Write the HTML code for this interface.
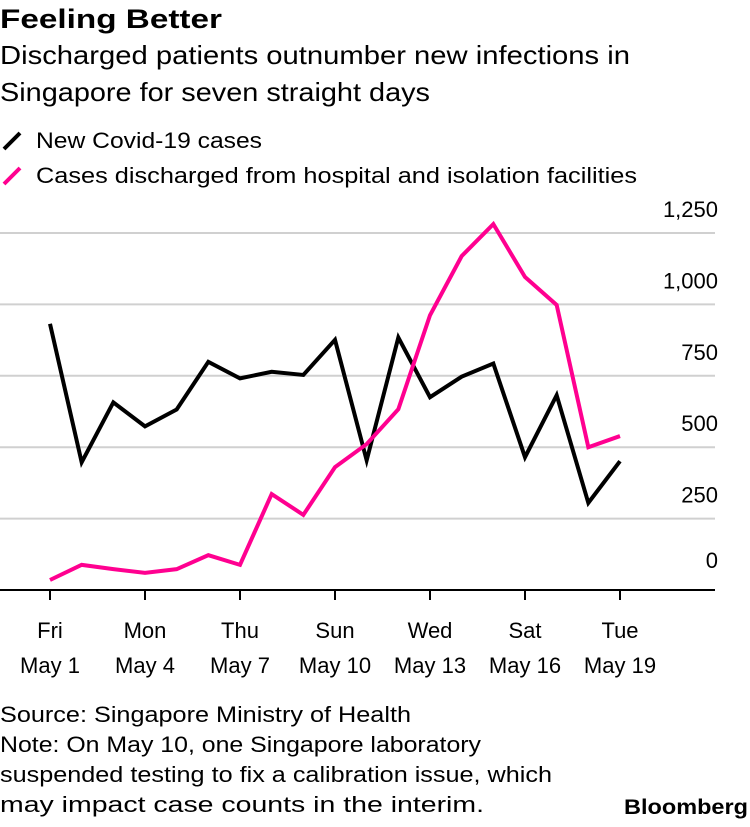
<!DOCTYPE html>
<html><head><meta charset="utf-8"><style>
body{margin:0;background:#fff;width:750px;height:822px;overflow:hidden;font-family:"Liberation Sans",sans-serif;color:#000}
svg text{font-family:"Liberation Sans",sans-serif}
</style></head><body>
<svg width="750" height="822">
<text x="0" y="28" font-size="27" font-weight="bold" textLength="222" lengthAdjust="spacingAndGlyphs">Feeling Better</text>
<text x="0" y="64" font-size="26" textLength="630" lengthAdjust="spacingAndGlyphs">Discharged patients outnumber new infections in</text>
<text x="0" y="101" font-size="26" textLength="430" lengthAdjust="spacingAndGlyphs">Singapore for seven straight days</text>
<g><line x1="4" y1="149" x2="20" y2="133" stroke="#000" stroke-width="4"/><text x="36" y="148" font-size="22" textLength="226" lengthAdjust="spacingAndGlyphs">New Covid-19 cases</text></g>
<g><line x1="4" y1="184" x2="20" y2="168" stroke="#ff0090" stroke-width="4"/><text x="36" y="183" font-size="22" textLength="601" lengthAdjust="spacingAndGlyphs">Cases discharged from hospital and isolation facilities</text></g>
<g id="grid"></g><g id="xaxis"></g><g id="series"></g>
<text x="0" y="722" font-size="22" textLength="411" lengthAdjust="spacingAndGlyphs">Source: Singapore Ministry of Health</text>
<text x="0" y="752" font-size="22" textLength="481" lengthAdjust="spacingAndGlyphs">Note: On May 10, one Singapore laboratory</text>
<text x="0" y="782" font-size="22" textLength="552" lengthAdjust="spacingAndGlyphs">suspended testing to fix a calibration issue, which</text>
<text x="0" y="812" font-size="22" textLength="484" lengthAdjust="spacingAndGlyphs">may impact case counts in the interim.</text>
<text x="624" y="814" font-size="21" font-weight="bold" textLength="124" lengthAdjust="spacingAndGlyphs">Bloomberg</text>
</svg>
<script>
const newCases=[932,447,657,573,632,799,741,764,753,876,454,884,675,747,793,465,682,305,451];
const discharged=[35,88,73,60,73,122,88,336,263,430,511,633,962,1169,1281,1096,998,500,539];
const yTicks=[0,250,500,750,1000,1250];
const xTicks=[{i:0,a:"Fri",b:"May 1"},{i:3,a:"Mon",b:"May 4"},{i:6,a:"Thu",b:"May 7"},{i:9,a:"Sun",b:"May 10"},{i:12,a:"Wed",b:"May 13"},{i:15,a:"Sat",b:"May 16"},{i:18,a:"Tue",b:"May 19"}];
const NS="http://www.w3.org/2000/svg";
const x=i=>50+i*(570/18);
const y=v=>590-v*(357/1250);
function mk(t,attrs,parent){const e=document.createElementNS(NS,t);for(const k in attrs)e.setAttribute(k,attrs[k]);parent.appendChild(e);return e;}
const g=document.getElementById('grid');
yTicks.forEach(v=>{
 if(v>0){const l=mk('line',{x1:0,x2:715,y1:y(v),y2:y(v),stroke:'#d0d0d0','stroke-width':2},g);
 
 }
 const t=mk('text',{x:718,y:y(v)-16+(v===0?-6:0),'font-size':22,'text-anchor':'end'},g);
 t.textContent=v.toLocaleString('en-US');
 
 
});
const xa=document.getElementById('xaxis');
const base=mk('line',{x1:0,x2:715,y1:590,y2:590,stroke:'#000','stroke-width':2},xa);


xTicks.forEach(d=>{
 const tk=mk('line',{x1:x(d.i),x2:x(d.i),y1:590,y2:600,stroke:'#000','stroke-width':2},xa);
 
 
 const t1=mk('text',{x:x(d.i),y:638,'font-size':22,'text-anchor':'middle'},xa);t1.textContent=d.a;
 
 
 const t2=mk('text',{x:x(d.i),y:673,'font-size':22,'text-anchor':'middle'},xa);t2.textContent=d.b;
 
 
});
const s=document.getElementById('series');
function line(arr,col,name){const p=mk('polyline',{points:arr.map((v,i)=>x(i)+','+y(v)).join(' '),fill:'none',stroke:col,'stroke-width':4,'stroke-linejoin':'miter'},s);
 
 }
line(newCases,'#000','new-cases-line');
line(discharged,'#ff0090','discharged-line');
</script>
</body></html>
